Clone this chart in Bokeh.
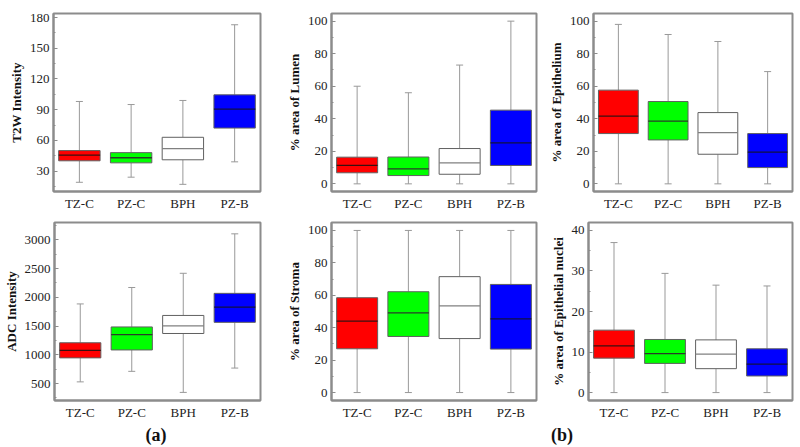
from bokeh.plotting import figure
from bokeh.layouts import row, column
from bokeh.models import ColumnDataSource, Range1d, SingleIntervalTicker, Whisker, TeeHead, Label
from bokeh.transform import dodge
from bokeh.embed import file_html
from bokeh.resources import INLINE

CATS = ["TZ-C", "PZ-C", "BPH", "PZ-B"]

# T2W Intensity
T2W_LO = [19, 24, 17, 39]
T2W_Q1 = [40, 38, 41, 72]
T2W_MED = [45.5, 43, 52, 90.5]
T2W_Q3 = [50, 48, 63, 104.5]
T2W_HI = [98, 95, 99, 173]

# % area of Lumen
LUM_LO = [0, 0, 0, 0]
LUM_Q1 = [6.8, 5.1, 5.9, 11.3]
LUM_MED = [11.3, 9.2, 12.9, 25.2]
LUM_Q3 = [16.4, 16.5, 21.7, 45.3]
LUM_HI = [60, 56, 73, 100]

# % area of Epithelium
EPI_LO = [0, 0, 0, 0]
EPI_Q1 = [30.9, 27, 18.2, 10]
EPI_MED = [41.6, 38.5, 31.5, 19.5]
EPI_Q3 = [57.6, 50.6, 43.8, 30.9]
EPI_HI = [98, 91.8, 87.5, 69]

# ADC Intensity
ADC_LO = [529, 712, 346, 769]
ADC_Q1 = [946, 1084, 1370, 1564]
ADC_MED = [1078, 1352, 1501, 1827]
ADC_Q3 = [1209, 1484, 1684, 2068]
ADC_HI = [1884, 2170, 2417, 3103]

# % area of Stroma
STR_LO = [0, 0, 0, 0]
STR_Q1 = [27, 34.6, 33.3, 26.8]
STR_MED = [44.1, 49.2, 53.5, 45.5]
STR_Q3 = [58.5, 62.2, 71.5, 66.7]
STR_HI = [100, 100, 100, 100]

# % area of Epithelial nuclei
NUC_LO = [0, 0, 0, 0]
NUC_Q1 = [8.5, 7.2, 5.9, 4.1]
NUC_MED = [11.5, 9.6, 9.5, 7]
NUC_Q3 = [15.4, 13.1, 13, 10.8]
NUC_HI = [37, 29.4, 26.5, 26.3]

GROUP_LABELS = ["(a)", "(b)"]

FILLS = ["#ff0000", "#00ff00", "#ffffff", "#0000ff"]
MEDCOLS = ["#3a1010", "#2a3a2a", "#808080", "#101040"]

GREY = "#8c8c8c"
FONT = "Liberation Serif"


def panel(ylabel, lo, q1, med, q3, hi, yr, interval, width, height,
          mbl, mbr, mbt, mbb):
    p = figure(width=width, height=height, x_range=CATS, y_range=Range1d(*yr),
               output_backend="svg", toolbar_location=None,
               min_border_left=mbl, min_border_right=mbr,
               min_border_top=mbt, min_border_bottom=mbb)
    src = ColumnDataSource(dict(cat=CATS, lo=lo, q1=q1, med=med, q3=q3, hi=hi,
                                fill=FILLS, mcol=MEDCOLS))
    up = Whisker(base="cat", lower="q3", upper="hi", source=src,
                 line_color="#999999", line_width=1,
                 upper_head=TeeHead(size=7, line_color="#999999", line_width=1),
                 lower_head=None, level="underlay")
    dn = Whisker(base="cat", lower="lo", upper="q1", source=src,
                 line_color="#999999", line_width=1,
                 lower_head=TeeHead(size=7, line_color="#999999", line_width=1),
                 upper_head=None, level="underlay")
    p.add_layout(up)
    p.add_layout(dn)
    p.vbar(x="cat", width=0.8, bottom="q1", top="q3", fill_color="fill",
           line_color="#606060", line_width=1, source=src)
    p.segment(x0=dodge("cat", -0.4, range=p.x_range), x1=dodge("cat", 0.4, range=p.x_range),
              y0="med", y1="med", line_color="mcol", line_width=1.3, source=src)

    p.xgrid.visible = False
    p.ygrid.visible = False
    p.outline_line_color = GREY
    p.outline_line_width = 2
    p.yaxis.ticker = SingleIntervalTicker(interval=interval, num_minor_ticks=2)
    p.yaxis.major_tick_in = 4
    p.yaxis.major_tick_out = 0
    p.yaxis.minor_tick_in = 2
    p.yaxis.minor_tick_out = 0
    p.xaxis.major_tick_in = 0
    p.xaxis.major_tick_out = 0
    p.axis.axis_line_color = GREY
    p.axis.axis_line_width = 2
    p.axis.major_tick_line_color = GREY
    p.axis.minor_tick_line_color = GREY
    p.axis.major_label_text_font = FONT
    p.axis.major_label_text_font_size = "13px"
    p.axis.major_label_text_color = "#222222"
    p.yaxis.major_label_standoff = 4
    p.xaxis.major_label_standoff = 4
    p.yaxis.axis_label = ylabel
    p.yaxis.axis_label_text_font = FONT
    p.yaxis.axis_label_text_font_style = "bold"
    p.yaxis.axis_label_text_font_size = "13px"
    p.yaxis.axis_label_text_color = "#111111"
    p.yaxis.axis_label_standoff = 3
    return p


W = 800
H1, H2, H3 = 213, 209, 25
# (canvas width, min_border_left, min_border_right) per column
COLS = [(270, 53, 10), (275, 61, 9), (255, 43, 8)]

f1 = panel("T2W Intensity", T2W_LO, T2W_Q1, T2W_MED, T2W_Q3, T2W_HI, (10, 184), 30,
           COLS[0][0], H1, COLS[0][1], COLS[0][2], 13, 22)
f2 = panel("% area of Lumen", LUM_LO, LUM_Q1, LUM_MED, LUM_Q3, LUM_HI, (-4.7, 104.7), 20,
           COLS[1][0], H1, COLS[1][1], COLS[1][2], 13, 22)
f3 = panel("% area of Epithelium", EPI_LO, EPI_Q1, EPI_MED, EPI_Q3, EPI_HI, (-4.7, 104.7), 20,
           COLS[2][0], H1, COLS[2][1], COLS[2][2], 13, 22)
f4 = panel("ADC Intensity", ADC_LO, ADC_Q1, ADC_MED, ADC_Q3, ADC_HI, (205, 3300), 500,
           COLS[0][0], H2, COLS[0][1], COLS[0][2], 9, 20)
f5 = panel("% area of Stroma", STR_LO, STR_Q1, STR_MED, STR_Q3, STR_HI, (-4.9, 104.9), 20,
           COLS[1][0], H2, COLS[1][1], COLS[1][2], 9, 20)
f6 = panel("% area of Epithelial nuclei", NUC_LO, NUC_Q1, NUC_MED, NUC_Q3, NUC_HI, (-1.95, 41.95), 10,
           COLS[2][0], H2, COLS[2][1], COLS[2][2], 9, 20)

# frame edges in layout pixels, used to centre the group labels
fr_a_left = COLS[0][1]
fr_a_right = COLS[0][0] - COLS[0][2]
fr_b_left = COLS[0][0] + COLS[1][1]
fr_b_right = COLS[0][0] + COLS[1][0] + COLS[2][0] - COLS[2][2]

lab = figure(width=W, height=H3, x_range=Range1d(0, W), y_range=Range1d(0, H3),
             output_backend="svg", toolbar_location=None,
             x_axis_location=None, y_axis_location=None,
             min_border_left=0, min_border_right=0, min_border_top=0, min_border_bottom=0)
lab.outline_line_color = None
lab.xgrid.visible = False
lab.ygrid.visible = False
for txt, cx in zip(GROUP_LABELS, [(fr_a_left + fr_a_right) / 2 - 1, (fr_b_left + fr_b_right) / 2]):
    lab.add_layout(Label(x=cx, y=H3 - 12, text=txt, text_font=FONT, text_font_style="bold",
                         text_font_size="18px", text_align="center", text_baseline="middle",
                         text_color="#111111"))

layout = column(row(f1, f2, f3), row(f4, f5, f6), lab)
open("out.html", "w").write(file_html(layout, INLINE))
